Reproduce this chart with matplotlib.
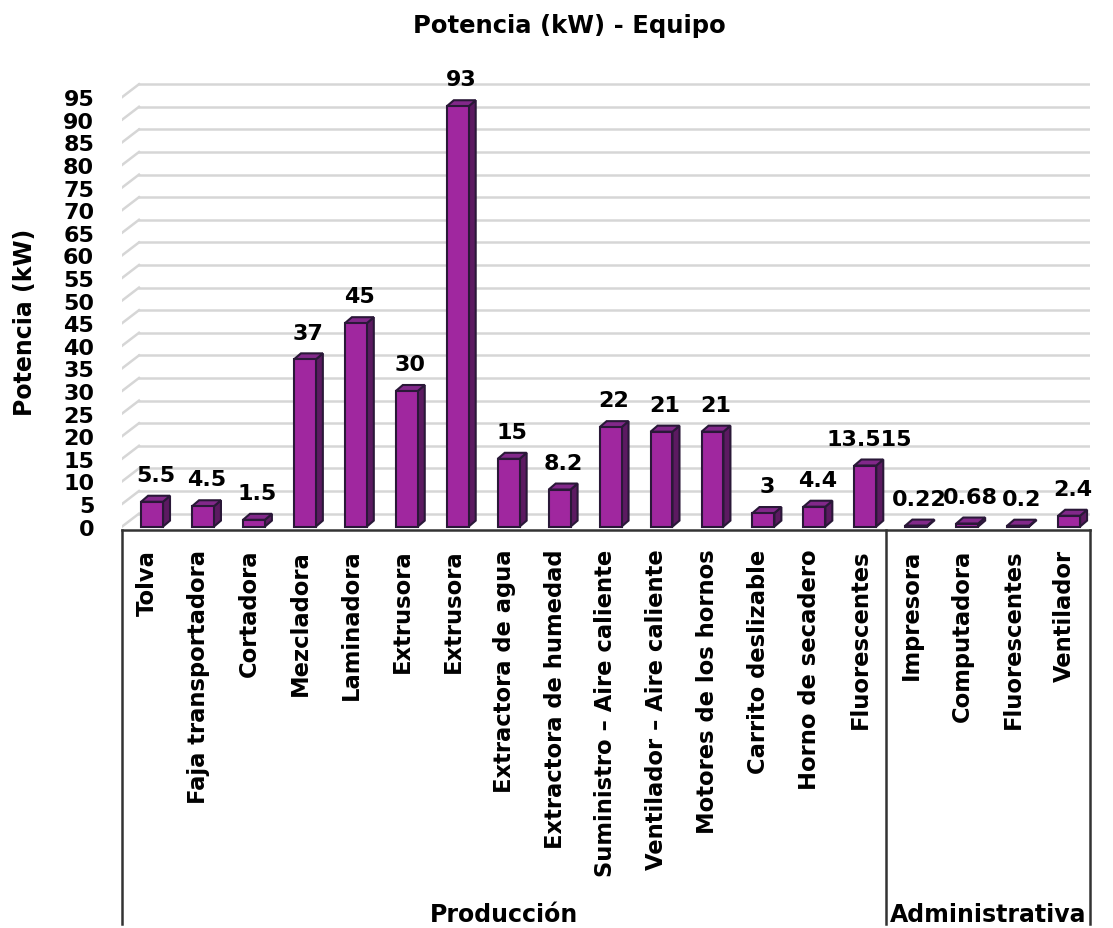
import numpy as np
import matplotlib
matplotlib.use('Agg')
import matplotlib.pyplot as plt
from matplotlib.patches import Polygon
import matplotlib.transforms as mtransforms

# DATOS
equipos = ['Tolva', 'Faja transportadora', 'Cortadora', 'Mezcladora', 'Laminadora',
           'Extrusora', 'Extrusora', 'Extractora de agua', 'Extractora de humedad',
           'Suministro – Aire caliente', 'Ventilador – Aire caliente',
           'Motores de los hornos', 'Carrito deslizable', 'Horno de secadero',
           'Fluorescentes', 'Impresora', 'Computadora', 'Fluorescentes', 'Ventilador']
potencia = [5.5, 4.5, 1.5, 37, 45, 30, 93, 15, 8.2, 22, 21, 21, 3, 4.4, 13.515,
            0.22, 0.68, 0.2, 2.4]
grupos = ['Producción', 'Administrativa']
n_por_grupo = [15, 4]
yticks = list(range(0, 100, 5))

W, H = 1113, 929
font = 16
plt.rcParams['font.family'] = ['DejaVu Sans']
plt.rcParams['font.weight'] = 'bold'

fig = plt.figure(figsize=(W / 100, H / 100), dpi=100)
# axes en pixeles: x 122 -> 1090, y 60 -> 531
ax = fig.add_axes([122 / W, (H - 531) / H, (1090 - 122) / W, (531 - 60) / H])
ppu = 4.52  # px por unidad
ax.set_xlim(-0.5, len(potencia) - 0.5)
ax.set_ylim(-(531 - 527.6) / ppu, (527.6 - 60) / ppu)
for s in ax.spines.values():
    s.set_visible(False)

def px(x, y):
    return ax.transData.transform((x, y))

ident = mtransforms.IdentityTransform()
grid_col = '#d6d6d6'
wall_dx, wall_dy = 17, 13  # profundidad de la pared del fondo (px)

# rejilla de la pared del fondo + diagonales del lateral
for v in yticks:
    x0, y0 = px(-0.5, v)
    x1, y1 = px(len(potencia) - 0.5, v)
    ax.add_line(plt.Line2D([x0 + wall_dx, x1 + wall_dx], [y0 + wall_dy, y1 + wall_dy],
                           transform=ident, color=grid_col, lw=1.8, zorder=1))
    ax.add_line(plt.Line2D([x0, x0 + wall_dx], [y0, y0 + wall_dy],
                           transform=ident, color=grid_col, lw=1.8, zorder=1))

# barras 3D
x = np.arange(len(potencia))
shift = 0.09; bw = 0.43
bar_dx, bar_dy = 7, 6
front = '#a0279f'; side = '#5c1a61'; top = '#82288a'; edge = '#2a1838'
ax.bar(x + shift, potencia, width=bw, color=front, edgecolor=edge, linewidth=1.5, zorder=4)
for xi, v in zip(x, potencia):
    xl, yb = px(xi + shift - bw / 2, 0)
    xr, yt = px(xi + shift + bw / 2, v)
    topf = Polygon([[xl, yt], [xr, yt], [xr + bar_dx, yt + bar_dy], [xl + bar_dx, yt + bar_dy]],
                   closed=True, transform=ident, facecolor=top, edgecolor=edge, lw=1.5, zorder=3)
    sidef = Polygon([[xr, yb], [xr, yt], [xr + bar_dx, yt + bar_dy], [xr + bar_dx, yb + bar_dy]],
                    closed=True, transform=ident, facecolor=side, edgecolor=edge, lw=1.5, zorder=3)
    ax.add_patch(sidef); ax.add_patch(topf)
    ax.annotate('%g' % v, (xi + shift, v), xytext=(2.5, 15), textcoords='offset points',
                ha='center', va='baseline', fontsize=font, fontweight='bold', zorder=6)

# ejes
ax.set_yticks(yticks)
ax.set_yticklabels([str(t) for t in yticks], fontsize=font, fontweight='bold')
ax.tick_params(axis='y', length=0, pad=20)
ax.set_xticks(x)
ax.set_xticklabels(equipos, rotation=90, fontsize=16.3, fontweight='bold', va='top')
ax.tick_params(axis='x', length=0, pad=13.5)

# linea de categorias y separadores de grupo
trans = ax.get_xaxis_transform()
ybot = -(925 - 531) / (531 - 60)
ax.plot([-0.5, len(potencia) - 0.5], [0, 0], transform=trans, color='#333333', lw=1.8,
        clip_on=False, zorder=5)
limites = np.concatenate([[0], np.cumsum(n_por_grupo)]) - 0.5
for b in limites:
    ax.plot([b, b], [0, ybot], transform=trans, color='#333333', lw=1.8, clip_on=False, zorder=5)
for g, a, b in zip(grupos, limites[:-1], limites[1:]):
    ax.text((a + b) / 2, -(915 - 531) / (531 - 60), g, transform=trans, ha='center',
            va='center', fontsize=17, fontweight='bold')

fig.text(569 / W, 1 - 26 / H, 'Potencia (kW) - Equipo', ha='center', va='center',
         fontsize=17.5, fontweight='bold')
fig.text(25 / W, 1 - 322 / H, 'Potencia (kW)', rotation=90, ha='center', va='center',
         fontsize=17, fontweight='bold')

fig.savefig('out.png', dpi=100)
